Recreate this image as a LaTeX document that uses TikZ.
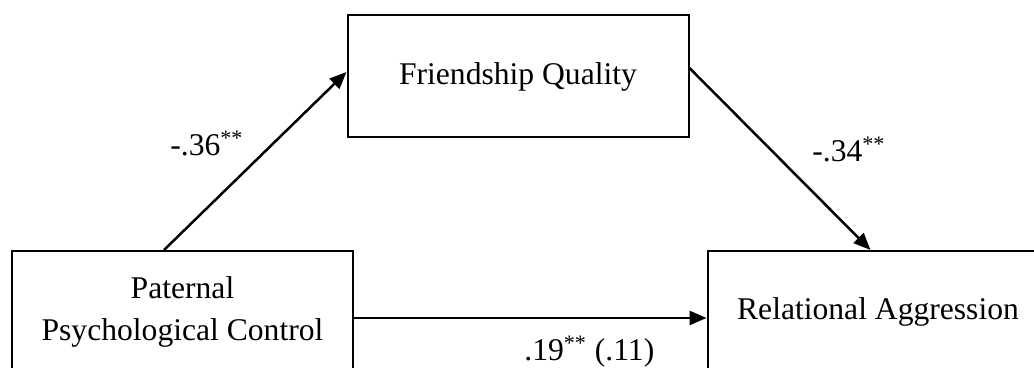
\documentclass[tikz,border=0pt]{standalone}
\usepackage{fontspec}
\setmainfont{Liberation Serif}
\usetikzlibrary{calc,arrows.meta}

\tikzset{
  varbox/.style={draw, line width=1pt, inner sep=0pt, align=center,
    minimum width=170.5pt, minimum height=61pt,
    font=\fontsize{15.8}{21}\selectfont},
  path/.style={line width=1.25pt, -{Triangle[length=8.5pt,width=7pt]}},
  coef/.style={inner sep=0pt, anchor=base west, font=\fontsize{15.8}{19}\selectfont}
}

\begin{document}
\begin{tikzpicture}[x=0.5pt, y=-0.5pt]
  \useasboundingbox (0,0) rectangle (1034,368);
  \clip (0,0) rectangle (1034,368);

  % the three variables
  \node[varbox] (ppc) at (182.5,312) {Paternal\\Psychological Control};
  \node[varbox] (fq)  at (518,76.5)  {Friendship Quality};
  \node[varbox] (ra)  at (878,312)   {Relational Aggression};

  % paths between them
  \draw[path] ($(ppc.north west)+(153,0)$) -- ($(fq.west)+(0,-4.5)$);
  \draw[path] ($(fq.east)+(0,-8.5)$) -- ($(ra.north west)+(164,0)$);
  \draw[path] ($(ppc.east)+(0,6)$) -- ($(ra.west)+(0,6)$);

  % path coefficients
  \node[coef] (a)  at (170,156) {-.36\textsuperscript{**}};
  \node[coef] (b)  at (812,162) {-.34\textsuperscript{**}};
  \node[coef] (c)  at (524,361) {.19\textsuperscript{**} (.11)};
\end{tikzpicture}
\end{document}
